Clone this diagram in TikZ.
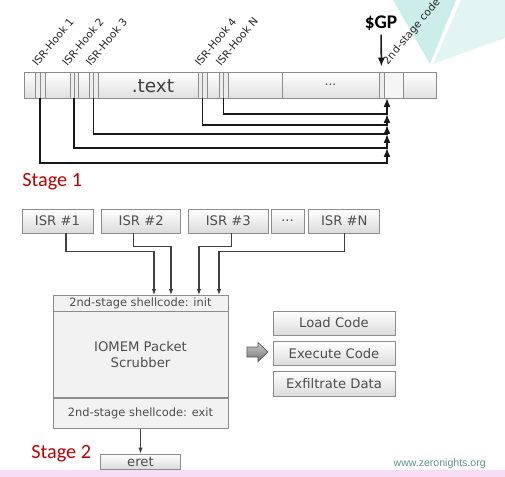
\documentclass[tikz,border=0pt]{standalone}
\usepackage{fontspec}
\setmainfont{DejaVu Sans}
\newfontfamily\calib{Carlito}
\newfontfamily\arialf{Liberation Sans}
\usetikzlibrary{shapes,arrows,arrows.meta,positioning,calc}
\definecolor{boxtext}{HTML}{4D4D4D}
\definecolor{boxline}{HTML}{8C8C8C}
\definecolor{stagered}{HTML}{C00000}
\definecolor{tealdark}{HTML}{CDEDEA}
\definecolor{teallight}{HTML}{E3F5F3}
\definecolor{pinkstrip}{HTML}{F8DDF6}
\definecolor{urlcol}{HTML}{5E8F8C}

\begin{document}
\begin{tikzpicture}[x=0.02cm, y=-0.02cm, >=stealth,
		gbox/.style={rectangle, draw=boxline, thin, top color=white, bottom color=black!14, text=boxtext, font=\fontsize{7.5}{9}\selectfont, inner sep=0pt},
		seg/.style={rectangle, draw=boxline, thin, inner sep=0pt, minimum height=0.52cm},
		slot/.style={seg, fill=black!7},
		hooklbl/.style={rotate=50, anchor=south west, inner sep=0pt, font=\fontsize{6}{7}\selectfont, text=black!85},
		band/.style={rectangle, draw=boxline, thin, fill=black!5, text=boxtext, inner sep=0pt, minimum width=3.5cm},
		link/.style={-{Latex[length=1.8mm,width=1.4mm]}, line width=0.9pt, black!90},
		feed/.style={-{Latex[length=1.2mm,width=0.9mm]}, line width=0.6pt, black!75},
		stagelbl/.style={text=stagered, font=\calib\fontsize{11.5}{13}\selectfont, inner sep=0pt, anchor=base west}]

		\useasboundingbox (0,0) rectangle (505,477);

		% slide background
		\fill[tealdark] (393,0) -- (430,64) -- (456,0) -- cycle;
		\fill[teallight] (461,0) -- (433,64) -- (505,38) -- (505,0) -- cycle;
		\fill[pinkstrip] (0,470) rectangle (505,477);

		% stage 1: the .text section
		\node [rectangle, draw=boxline, thin, top color=white, bottom color=black!12, minimum width=8.24cm, minimum height=0.52cm, inner sep=0pt] (bar) at (230,85) {};
		\node [font=\fontsize{10.5}{12}\selectfont, text=black!75] (txt) at (153,86) {.text};
		\node [slot, minimum width=0.2cm] (h1) at (40,85) {};
		\node [slot, minimum width=0.16cm] (h2) at (74,85) {};
		\node [slot, minimum width=0.18cm] (h3) at (93.5,85) {};
		\node [slot, minimum width=0.18cm] (h4) at (202.5,85) {};
		\node [slot, minimum width=0.18cm] (h5) at (223.5,85) {};
		\foreach \h in {h1,h2,h3,h4,h5}
			\draw [boxline, thin] (\h.north) -- (\h.south);
		\node [seg, minimum width=1.94cm, font=\fontsize{7}{8}\selectfont, text=boxtext] (dots) at (330.5,85) {...};
		\node [slot, minimum width=0.1cm] (gpslot) at (381.5,85) {};
		\node [seg, minimum width=0.38cm, fill=black!4] (stage2) at (393.5,85) {};

		\node [hooklbl] (l1) at ([xshift=0.06cm, yshift=0.09cm]h1.north west) {ISR-Hook 1};
		\node [hooklbl] (l2) at ([xshift=-0.04cm, yshift=0.09cm]h2.north west) {ISR-Hook 2};
		\node [hooklbl] (l3) at ([xshift=0.05cm, yshift=0.09cm]h3.north west) {ISR-Hook 3};
		\node [hooklbl] (l4) at ([xshift=0.05cm, yshift=0.09cm]h4.north west) {ISR-Hook 4};
		\node [hooklbl] (l5) at ([xshift=0.05cm, yshift=0.09cm]h5.north west) {ISR-Hook N};
		\node [hooklbl] (l6) at ([xshift=0.12cm, yshift=0.09cm]stage2.north west) {2nd-stage code};

		\node [font=\calib\bfseries\fontsize{11}{13}\selectfont, inner sep=0pt] (gp) at (381,23) {\$GP};
		\draw [link, shorten <=0.08cm, shorten >=0.1cm] (gp.south) -- (gpslot.north);

		\coordinate (j0) at (387,98);
		\coordinate (j1) at (387,114);
		\coordinate (j2) at (387,125);
		\coordinate (j3) at (387,134);
		\coordinate (j4) at (387,148);
		\coordinate (j5) at (387,163);
		\draw [link] (h5.south) |- (j1) -- (j0);
		\draw [link] (h4.south) |- (j2) -- (j1);
		\draw [link] (h3.south) |- (j3) -- (j2);
		\draw [link] (h2.south) |- (j4) -- (j3);
		\draw [link] (h1.south) |- (j5) -- (j4);

		\node [stagelbl] (s1) at (22,186) {Stage 1};

		% stage 2: ISRs and the scrubber
		\node [gbox, minimum width=1.42cm, minimum height=0.48cm] (isr1) at (57.5,221) {ISR \#1};
		\node [gbox, minimum width=1.58cm, minimum height=0.48cm, right=0.16cm of isr1] (isr2) {ISR \#2};
		\node [gbox, minimum width=1.6cm, minimum height=0.48cm, right=0.14cm of isr2] (isr3) {ISR \#3};
		\node [gbox, minimum width=0.66cm, minimum height=0.48cm, right=0.04cm of isr3] (isrd) {...};
		\node [gbox, minimum width=1.42cm, minimum height=0.48cm, right=0.08cm of isrd] (isrN) {ISR \#N};

		\node [band, minimum height=0.32cm, font=\fontsize{6.5}{8}\selectfont] (init) at (140.5,303) {2nd-stage shellcode: init};
		\node [band, minimum height=1.72cm, below=0cm of init, font=\fontsize{7.5}{9.5}\selectfont, align=center] (scrub) {IOMEM Packet\\Scrubber};
		\node [band, minimum height=0.6cm, below=0cm of scrub, font=\fontsize{6.5}{8}\selectfont] (exit) {2nd-stage shellcode: exit};
		\node [gbox, minimum width=1.6cm, minimum height=0.3cm, below=0.5cm of exit] (eret) {eret};

		\coordinate (e1) at (154,295);
		\coordinate (e2) at (171,295);
		\coordinate (e3) at (199,295);
		\coordinate (e4) at (219,295);
		\draw [feed] ([xshift=0.17cm]isr1.south) -- ++(0,18) -| (e1);
		\draw [feed] ([xshift=-0.15cm]isr2.south) -- ++(0,13) -| (e2);
		\draw [feed] ([xshift=0.06cm]isr3.south) -- ++(0,13) -| (e3);
		\draw [feed] (isrN.south) -- ++(0,18) -| (e4);
		\draw [feed] (exit) -- (eret);

		\draw [draw=black!65, top color=black!20, bottom color=black!55, thin]
			(247,347) -- (258,347) -- (258,342.5) -- (268,352) -- (258,361.5) -- (258,357) -- (247,357) -- cycle;

		\node [gbox, minimum width=2.44cm, minimum height=0.48cm] (load) at (334,323) {Load Code};
		\node [gbox, minimum width=2.44cm, minimum height=0.48cm, below=0.12cm of load] (exec) {Execute Code};
		\node [gbox, minimum width=2.44cm, minimum height=0.5cm, below=0.1cm of exec] (exfil) {Exfiltrate Data};

		\node [stagelbl] (s2) at (31,458) {Stage 2};
		\node [font=\arialf\fontsize{6}{7}\selectfont, text=urlcol, anchor=base east, inner sep=0pt] (url) at (486,466) {www.zeronights.org};

	\end{tikzpicture}
\end{document}
